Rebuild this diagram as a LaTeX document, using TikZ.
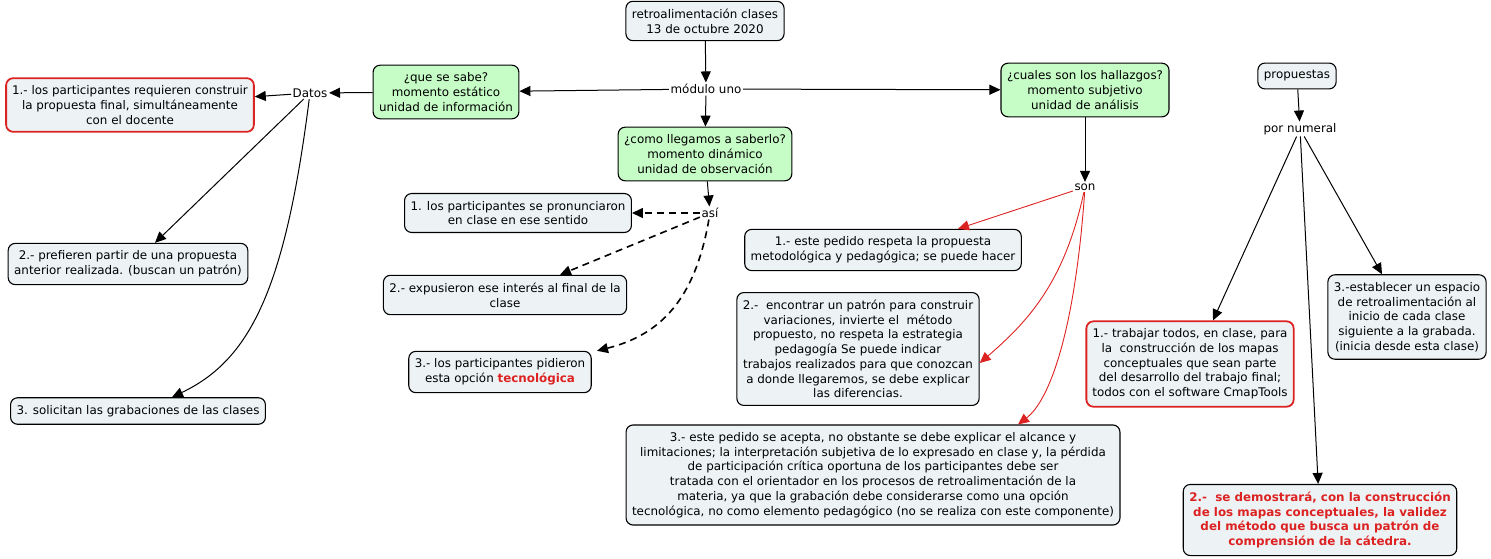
\documentclass[tikz,border=0pt]{standalone}
\usepackage{fontspec}
\setmainfont{DejaVu Sans}
\usetikzlibrary{arrows.meta}
\definecolor{boxfill}{HTML}{EDF3F5}
\definecolor{greenfill}{HTML}{C6FCC6}
\definecolor{cmapred}{HTML}{DD2222}
\tikzset{
  concept/.style={draw=black, fill=boxfill, rounded corners=7pt, line width=1.1pt,
    align=center, inner xsep=6pt, inner ysep=7.5pt, font=\fontsize{11.9}{14.7}\selectfont},
  greenconcept/.style={concept, fill=greenfill},
  redconcept/.style={concept, draw=cmapred, line width=1.8pt},
  linkword/.style={fill=white, inner sep=1.5pt, font=\fontsize{11.9}{13}\selectfont},
  link/.style={line width=1pt, -{Triangle[length=11pt, width=10pt]}},
  dashlink/.style={link, dashed, dash pattern=on 7pt off 5pt, line width=1.6pt},
  redlink/.style={draw=cmapred, line width=0.9pt, -{Triangle[length=11pt, width=10pt]}, color=cmapred},
}
\begin{document}
\begin{tikzpicture}[x=1pt, y=-1pt]
  \useasboundingbox (0,0) rectangle (1491,559);

  % top and the three moments
  \node[concept] (retro) at (705,21) {retroalimentación clases\\13 de octubre 2020};
  \node[linkword] (modulo) at (706,89) {módulo uno};
  \node[greenconcept] (sabe) at (446,92) {¿que se sabe?\\momento estático\\unidad de información};
  \node[greenconcept] (como) at (705,154) {¿como llegamos a saberlo?\\momento dinámico\\unidad de observación};
  \node[greenconcept] (cuales) at (1085,90) {¿cuales son los hallazgos?\\momento subjetivo\\unidad de análisis};

  % datos
  \node[linkword] (datos) at (310,93) {Datos};
  \node[redconcept] (datoA) at (130,105) {1.- los participantes requieren construir\\la propuesta final, simultáneamente\\con el docente};
  \node[concept] (datoB) at (128,264) {2.- prefieren partir de una propuesta\\anterior realizada. (buscan un patrón)};
  \node[concept] (datoC) at (138,411) {3. solicitan las grabaciones de las clases};

  % asi
  \node[linkword] (asi) at (710,213) {así};
  \node[concept] (asiA) at (518,213) {1. los participantes se pronunciaron\\en clase en ese sentido};
  \node[concept] (asiB) at (505,295) {2.- expusieron ese interés al final de la\\clase};
  \node[concept] (asiC) at (500,372) {3.- los participantes pidieron\\esta opción \textcolor{cmapred}{\textbf{tecnológica}}};

  % son
  \node[linkword] (son) at (1085,187) {son};
  \node[concept] (sonA) at (883,250) {1.- este pedido respeta la propuesta\\metodológica y pedagógica; se puede hacer};
  \node[concept] (sonB) at (858,349) {2.-\ \ encontrar un patrón para construir\\variaciones, invierte el\ \ método\\propuesto, no respeta la estrategia\\pedagogía Se puede indicar\\trabajos realizados para que conozcan\\a donde llegaremos, se debe explicar\\las diferencias.};
  \node[concept] (sonC) at (873,475) {3.- este pedido se acepta, no obstante se debe explicar el alcance y\\limitaciones; la interpretación subjetiva de lo expresado en clase y, la pérdida\\de participación crítica oportuna de los participantes debe ser\\tratada con el orientador en los procesos de retroalimentación de la\\materia, ya que la grabación debe considerarse como una opción\\tecnológica, no como elemento pedagógico (no se realiza con este componente)};

  % propuestas
  \node[concept] (prop) at (1297,76) {propuestas};
  \node[linkword] (numeral) at (1300,129) {por numeral};
  \node[redconcept] (propA) at (1190,364) {1.- trabajar todos, en clase, para\\la\ \ construcción de los mapas\\conceptuales que sean parte\\del desarrollo del trabajo final;\\todos con el software CmapTools};
  \node[concept] (propB) at (1320,520) {\textcolor{cmapred}{\textbf{2.-\ \ se demostrará, con la construcción}}\\\textcolor{cmapred}{\textbf{de los mapas conceptuales, la validez}}\\\textcolor{cmapred}{\textbf{del método que busca un patrón de}}\\\textcolor{cmapred}{\textbf{comprensión de la cátedra.}}};
  \node[concept] (propC) at (1407,317) {3.-establecer un espacio\\de retroalimentación al\\inicio de cada clase\\siguiente a la grabada.\\(inicia desde esta clase)};

  \draw[link] (retro) -- (modulo);
  \draw[link] (modulo) -- (sabe);
  \draw[link] (modulo) -- (cuales);
  \draw[link] (modulo) -- (como);

  \draw[link] (sabe) -- (datos);
  \draw[link] (datos) -- (datoA);
  \draw[link] (datos) -- ([xshift=27pt]datoB.north);
  \draw[link] (datos) .. controls (285,290) and (250,360) .. ([xshift=34pt]datoC.north);

  \draw[link] (como) -- (asi);
  \draw[dashlink] (asi) -- (asiA);
  \draw[dashlink] (asi) -- ([xshift=55pt]asiB.north);
  \draw[dashlink] (asi) .. controls (695,300) and (660,335) .. ([xshift=97pt]asiC.north);

  \draw[link] (cuales) -- (son);
  \draw[redlink] (son) -- ([xshift=75pt]sonA.north);
  \draw[redlink] (son) .. controls (1065,280) and (1030,320) .. ([yshift=-14pt]sonB.east);
  \draw[redlink] (son) .. controls (1075,330) and (1050,400) .. ([xshift=145pt]sonC.north);

  \draw[link] (prop) -- (numeral);
  \draw[link] (numeral) -- ([xshift=23pt]propA.north);
  \draw[link] (numeral) -- (propB);
  \draw[link] (numeral) -- ([xshift=-25pt]propC.north);
\end{tikzpicture}
\end{document}
